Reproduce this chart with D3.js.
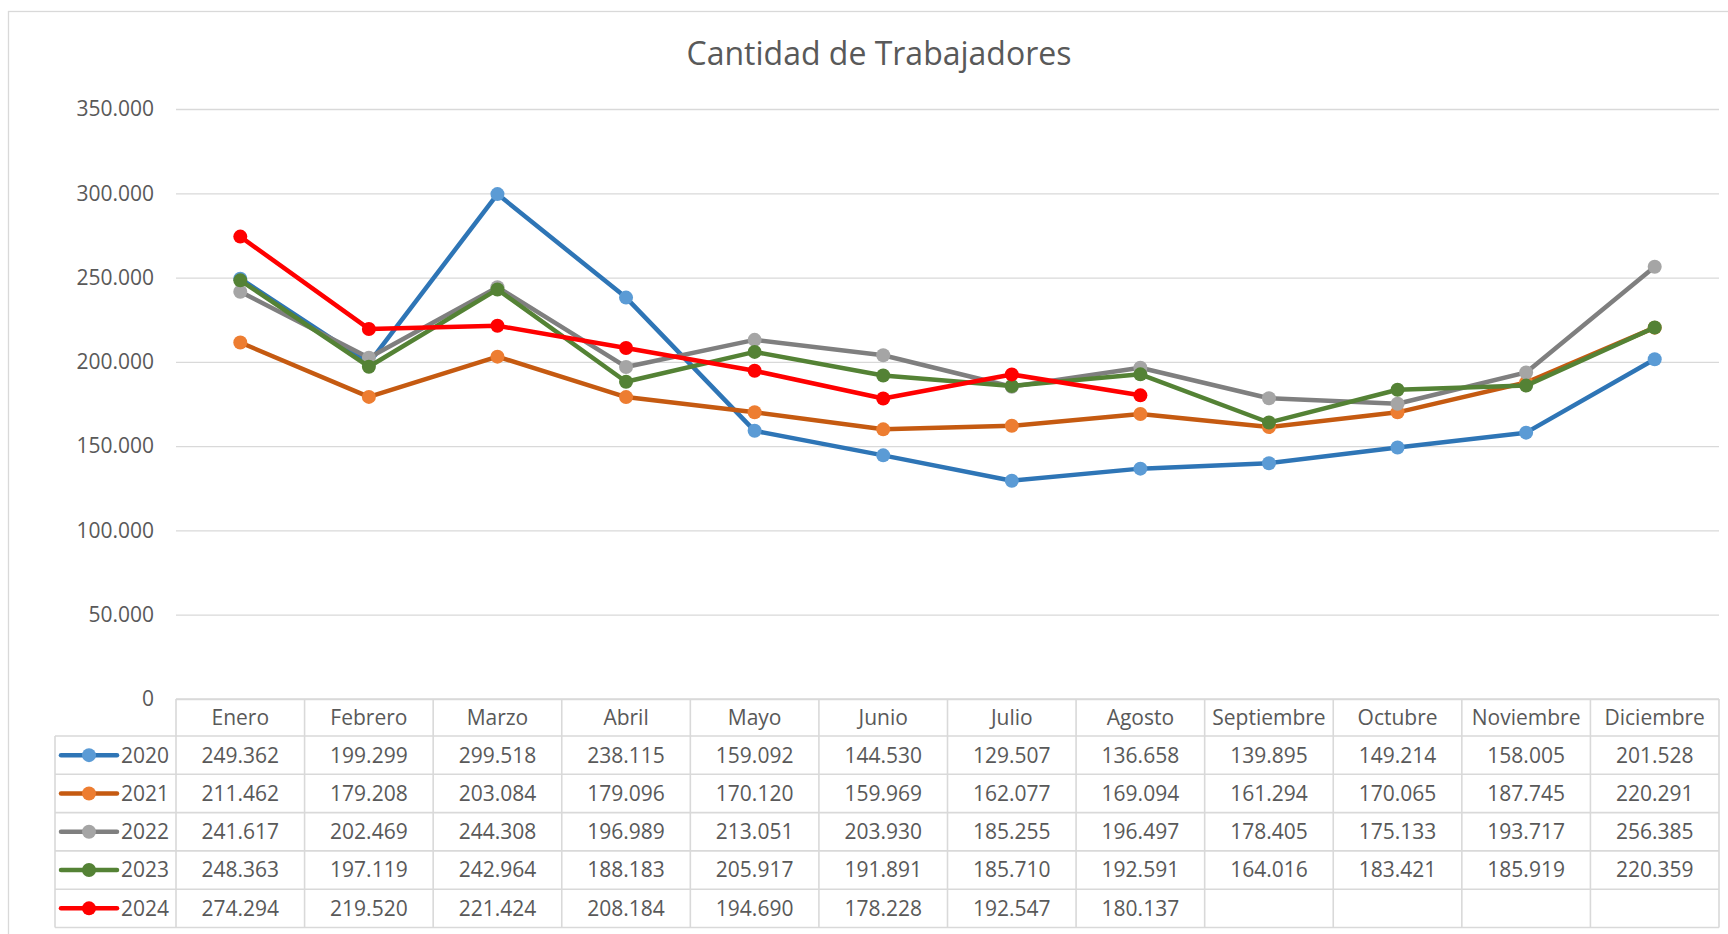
<!DOCTYPE html>
<html>
<head>
<meta charset="utf-8">
<script src="https://cdn.jsdelivr.net/npm/d3@7"></script>
<style>
body { margin: 0; background: #fff; }
text { font-family: "Open Sans", sans-serif; fill: #595959; }
</style>
</head>
<body>
<script>
var months = ["Enero", "Febrero", "Marzo", "Abril", "Mayo", "Junio", "Julio",
    "Agosto", "Septiembre", "Octubre", "Noviembre", "Diciembre"];
var years = ["2020", "2021", "2022", "2023", "2024"];

var values2020 = [249362, 199299, 299518, 238115, 159092, 144530, 129507, 136658, 139895, 149214, 158005, 201528];
var values2021 = [211462, 179208, 203084, 179096, 170120, 159969, 162077, 169094, 161294, 170065, 187745, 220291];
var values2022 = [241617, 202469, 244308, 196989, 213051, 203930, 185255, 196497, 178405, 175133, 193717, 256385];
var values2023 = [248363, 197119, 242964, 188183, 205917, 191891, 185710, 192591, 164016, 183421, 185919, 220359];
var values2024 = [274294, 219520, 221424, 208184, 194690, 178228, 192547, 180137];

var yTicks = [0, 50000, 100000, 150000, 200000, 250000, 300000, 350000];

var lineColors = ["#2E75B6", "#C55A11", "#7F7F7F", "#548235", "#FF0000"];
var markerColors = ["#5B9BD5", "#ED7D31", "#A5A5A5", "#548235", "#FF0000"];

let series = [values2020, values2021, values2022, values2023, values2024].map(function(vals, i) {
    return { year: years[i], values: vals, line: lineColors[i], marker: markerColors[i] };
});

let outerWidth = 1728;
let outerHeight = 934;
let margin = { top: 109, left: 176, right: 9, bottom: 235 };
let width = outerWidth - margin.left - margin.right;
let height = outerHeight - margin.top - margin.bottom;

let headerHeight = 37;
let rowHeight = 38.3;
let legendLeft = 55;

let es = d3.formatLocale({ decimal: ",", thousands: ".", grouping: [3], currency: ["", ""] });
let fmt = es.format(",d");

let svg = d3.select("body").append("svg")
    .attr("width", outerWidth)
    .attr("height", outerHeight);

// chart frame
svg.append("rect")
    .attr("x", 8.5).attr("y", 11.5)
    .attr("width", 1800).attr("height", 1000)
    .attr("fill", "none")
    .attr("stroke", "#D9D9D9")
    .attr("stroke-width", 1.3);

svg.append("text")
    .attr("x", 879)
    .attr("y", 65)
    .attr("text-anchor", "middle")
    .style("font-size", "32px")
    .text("Cantidad de Trabajadores");

let g = svg.append("g")
    .attr("transform", "translate(" + margin.left + "," + margin.top + ")");

let xScale = d3.scaleBand().domain(months).range([0, width]);
let yScale = d3.scaleLinear().domain([0, 350000]).range([height, 0]);

// gridlines + y labels
let yAxis = g.append("g")
    .call(d3.axisLeft(yScale).tickValues(yTicks).tickSize(-width).tickPadding(22).tickFormat(fmt));
yAxis.select(".domain").remove();
yAxis.selectAll("line")
    .attr("stroke", "#D9D9D9")
    .attr("stroke-width", 1.3);
yAxis.selectAll("text")
    .style("font-size", "21px")
    .style("font-family", "'Open Sans', sans-serif")
    .attr("fill", "#595959");

// lines
let lineGen = d3.line()
    .x(function(d, i) { return xScale(months[i]) + xScale.bandwidth() / 2; })
    .y(function(d) { return yScale(d); });

series.forEach(function(s) {
    let sg = g.append("g");
    sg.append("path")
        .attr("d", lineGen(s.values))
        .attr("fill", "none")
        .attr("stroke", s.line)
        .attr("stroke-width", 4.5)
        .attr("stroke-linejoin", "round")
        .attr("stroke-linecap", "round");
    sg.selectAll("circle")
        .data(s.values)
        .enter()
        .append("circle")
        .attr("cx", function(d, i) { return xScale(months[i]) + xScale.bandwidth() / 2; })
        .attr("cy", function(d) { return yScale(d); })
        .attr("r", 7)
        .attr("fill", s.marker);
});

// data table
let table = g.append("g").attr("transform", "translate(0," + height + ")");
let tableBottom = headerHeight + rowHeight * years.length;
let lineColor = "#D9D9D9";

// horizontal lines
table.append("line")
    .attr("x1", 0).attr("x2", width)
    .attr("y1", 0).attr("y2", 0)
    .attr("stroke", lineColor).attr("stroke-width", 1.6);
for (let r = 0; r <= years.length; r++) {
    table.append("line")
        .attr("x1", legendLeft - margin.left).attr("x2", width)
        .attr("y1", headerHeight + r * rowHeight).attr("y2", headerHeight + r * rowHeight)
        .attr("stroke", lineColor).attr("stroke-width", 1.6);
}
// vertical lines
table.append("line")
    .attr("x1", legendLeft - margin.left).attr("x2", legendLeft - margin.left)
    .attr("y1", headerHeight).attr("y2", tableBottom)
    .attr("stroke", lineColor).attr("stroke-width", 1.6);
months.concat([null]).forEach(function(m, i) {
    let x = i < months.length ? xScale(m) : width;
    table.append("line")
        .attr("x1", x).attr("x2", x)
        .attr("y1", 0).attr("y2", tableBottom)
        .attr("stroke", lineColor).attr("stroke-width", 1.6);
});

// header
table.selectAll(".month")
    .data(months)
    .enter()
    .append("text")
    .attr("class", "month")
    .attr("x", function(d) { return xScale(d) + xScale.bandwidth() / 2; })
    .attr("y", headerHeight / 2)
    .attr("dy", "0.35em")
    .attr("text-anchor", "middle")
    .style("font-size", "21px")
    .text(function(d) { return d; });

// rows
series.forEach(function(s, r) {
    let cy = headerHeight + r * rowHeight + rowHeight / 2;
    let lx = legendLeft - margin.left;
    table.append("line")
        .attr("x1", lx + 6).attr("x2", lx + 62)
        .attr("y1", cy).attr("y2", cy)
        .attr("stroke", s.line)
        .attr("stroke-width", 4.5)
        .attr("stroke-linecap", "round");
    table.append("circle")
        .attr("cx", lx + 34).attr("cy", cy)
        .attr("r", 7)
        .attr("fill", s.marker);
    table.append("text")
        .attr("x", lx + 66).attr("y", cy)
        .attr("dy", "0.35em")
        .style("font-size", "21px")
        .text(s.year);
    table.selectAll(".v" + s.year)
        .data(s.values)
        .enter()
        .append("text")
        .attr("x", function(d, i) { return xScale(months[i]) + xScale.bandwidth() / 2; })
        .attr("y", cy)
        .attr("dy", "0.35em")
        .attr("text-anchor", "middle")
        .style("font-size", "21px")
        .text(function(d) { return fmt(d); });
});
</script>
</body>
</html>
